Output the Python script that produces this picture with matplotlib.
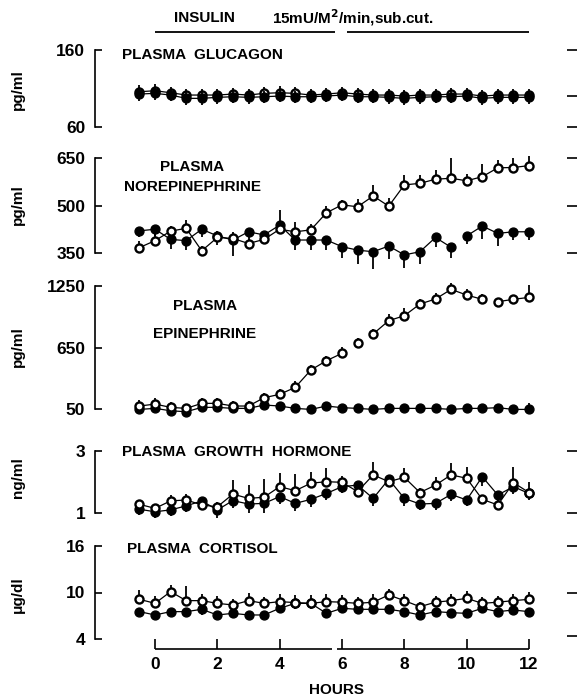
import matplotlib
matplotlib.use("Agg")
import matplotlib.pyplot as plt

plt.rcParams['font.family'] = ['Liberation Sans', 'DejaVu Sans']
plt.rcParams['font.weight'] = 'bold'

# ---------------- data ----------------
hours = [-0.5, 0, 0.5, 1, 1.5, 2, 2.5, 3, 3.5, 4, 4.5, 5, 5.5, 6,
         6.5, 7, 7.5, 8, 8.5, 9, 9.5, 10, 10.5, 11, 11.5, 12]

glu_open = [105.8, 107.1, 104.5, 101.5, 101.5, 101.5, 102.8, 101.5, 103.7, 104.5, 103.7, 101.5, 102.8,
            104.5, 102.8, 101.5, 101.5, 100.2, 101.5, 101.5, 102.8, 102.8, 100.2, 101.5, 101.5, 101.5]
glu_fill = [102.8, 103.7, 101.5, 97.2, 97.2, 98.5, 99.3, 98.5, 99.3, 100.2, 99.3, 99.3, 100.2,
            101.5, 99.3, 99.3, 98.5, 97.2, 98.5, 99.3, 99.3, 100.2, 97.2, 98.5, 98.5, 98.5]
glu_open_err = [9, 9, 8, 8, 8, 8, 8, 8, 8, 9, 8, 8, 8, 8, 8, 8, 8, 8, 8, 8, 8, 8, 8, 8, 8, 8]
glu_fill_err = [9, 8, 8, 9, 9, 8, 8, 8, 8, 8, 8, 8, 8, 8, 8, 8, 8, 9, 8, 8, 8, 8, 8, 8, 8, 8]

ne_open = [367, 389, 419, 428, 357, 399, 396, 380, 393, 425, 417, 423, 477,
           502, 496, 530, 498, 565, 570, 583, 586, 578, 591, 619, 620, 626]
ne_fill = [420, 425, 393, 389, 425, 404, 391, 417, 407, 438, 391, 391, 391,
           370, 359, 354, 372, 344, 354, 399, 368, 404, 435, 412, 417, 417]
ne_open_err = [20, 20, 15, 25, 15, 20, 20, 15, 15, 60, 30, 20, 20,
               15, 25, 35, 25, 30, 25, 30, 65, 20, 40, 25, 30, 30]
ne_fill_err = [20, 20, 30, 30, 25, 30, 50, 25, 25, 25, 30, 30, 30,
               35, 45, 55, 40, 40, 40, 30, 35, 25, 40, 40, 25, 25]

epi_open = [79, 98, 66, 56, 105, 105, 79, 79, 160, 193, 261, 430, 521,
            593, 697, 782, 912, 960, 1074, 1123, 1217, 1162, 1120, 1097, 1120, 1139]
epi_fill = [46, 56, 33, 23, 66, 66, 56, 56, 89, 79, 56, 46, 79,
            63, 56, 46, 56, 56, 56, 56, 46, 56, 56, 63, 46, 46]
epi_open_err = [60, 60, 50, 45, 55, 55, 45, 45, 50, 50, 60, 50, 50,
                60, 50, 50, 60, 75, 50, 60, 60, 60, 50, 35, 35, 120]
epi_fill_err = [40, 40, 40, 35, 45, 45, 40, 40, 50, 40, 30, 30, 35,
                30, 40, 30, 30, 40, 30, 35, 30, 40, 35, 40, 35, 60]

gh_open = [1.28, 1.15, 1.39, 1.42, 1.26, 1.20, 1.61, 1.47, 1.51, 1.85, 1.72, 1.96, 2.01,
           1.99, 1.69, 2.23, 2.01, 2.15, 1.66, 1.90, 2.23, 2.12, 1.44, 1.26, 1.98, 1.66]
gh_fill = [1.12, 1.04, 1.10, 1.23, 1.39, 1.10, 1.40, 1.29, 1.31, 1.53, 1.31, 1.44, 1.63,
           1.85, 1.90, 1.47, 2.09, 1.47, 1.29, 1.31, 1.60, 1.42, 2.17, 1.58, 1.85, 1.63]
gh_open_err = [0.15, 0.10, 0.20, 0.20, 0.20, 0.15, 0.45, 0.43, 0.60, 0.43, 0.53, 0.35, 0.43,
               0.20, 0.20, 0.43, 0.20, 0.30, 0.15, 0.27, 0.38, 0.38, 0.15, 0.15, 0.50, 0.35]
gh_fill_err = [0.20, 0.20, 0.20, 0.20, 0.20, 0.25, 0.25, 0.30, 0.30, 0.25, 0.25, 0.25, 0.20,
               0.20, 0.20, 0.25, 0.20, 0.25, 0.20, 0.20, 0.20, 0.20, 0.30, 0.25, 0.25, 0.20]

cort_open = [9.12, 8.60, 10.11, 8.95, 8.95, 8.60, 8.39, 8.95, 8.60, 8.82, 8.70, 8.60, 8.82,
             8.75, 8.60, 8.75, 9.68, 8.95, 8.17, 8.75, 8.95, 9.25, 8.60, 8.75, 8.95, 9.12]
cort_fill = [7.53, 7.10, 7.53, 7.53, 7.83, 7.10, 7.31, 7.10, 7.10, 7.96, 8.60, 8.60, 7.31,
             7.96, 7.83, 7.83, 7.83, 7.53, 7.10, 7.53, 7.40, 7.31, 7.96, 7.53, 7.74, 7.53]
cort_open_err = [1.2, 0.9, 0.9, 1.9, 0.9, 0.9, 0.8, 1.0, 0.8, 1.0, 1.0, 1.1, 1.0,
                 0.9, 0.8, 1.0, 0.8, 0.8, 0.6, 0.8, 0.9, 0.9, 0.8, 0.8, 0.8, 1.0]
cort_fill_err = [0.6, 0.5, 0.6, 0.6, 0.7, 0.5, 0.6, 0.5, 0.5, 0.6, 0.7, 0.7, 0.6,
                 0.6, 0.6, 0.6, 0.5, 0.5, 0.5, 0.5, 0.5, 0.5, 0.6, 0.5, 0.5, 0.5]

hour_ticks = [0, 2, 4, 6, 8, 10, 12]
insulin_segments = [(0, 5.77), (6.16, 12)]
axis_segments = [(0, 5.68), (5.84, 12)]

# ---------------- figure ----------------
W, H = 577, 700
fig = plt.figure(figsize=(W / 100, H / 100), dpi=100)
LEFT_PX, RIGHT_PX = 95, 577
XPX0, XPX12 = 155.0, 529.0
ppx = (XPX12 - XPX0) / 12.0
XMIN = (LEFT_PX - XPX0) / ppx
XMAX = 12 + (RIGHT_PX - XPX12) / ppx
TICKFS = 12.5


def add_panel(top_px, bot_px, ylo, yhi, lticks, rticks):
    ax = fig.add_axes([LEFT_PX / W, 1 - bot_px / H, (RIGHT_PX - LEFT_PX) / W, (bot_px - top_px) / H])
    ax.set_xlim(XMIN, XMAX)
    ax.set_ylim(ylo, yhi)
    for s in ['top', 'right', 'bottom']:
        ax.spines[s].set_visible(False)
    ax.spines['left'].set_linewidth(1.2)
    ax.set_xticks([])
    ax.set_yticks(lticks)
    ax.set_yticklabels([str(t) for t in lticks], fontsize=TICKFS, fontweight='bold')
    ax.tick_params(axis='y', direction='in', length=5, width=1.2, pad=7)
    ax.patch.set_alpha(0)
    if rticks:
        ax2 = ax.twinx()
        ax2.set_ylim(ylo, yhi)
        for s in ['top', 'left', 'bottom', 'right']:
            ax2.spines[s].set_visible(False)
        ax2.set_yticks(rticks)
        ax2.set_yticklabels([])
        ax2.tick_params(axis='y', direction='in', length=7, width=1.2)
    return ax


def series(ax, y, err, filled, direction, breaks=(), z=0):
    idx = list(range(len(hours)))
    segs, cur = [], []
    for i in idx:
        cur.append(i)
        if i in breaks:
            segs.append(cur)
            cur = []
    segs.append(cur)
    for seg in segs:
        ax.plot([hours[i] for i in seg], [y[i] for i in seg], color='black', lw=0.9,
                zorder=2, clip_on=False)
    for i in idx:
        lo = y[i] - err[i] if direction in ('down', 'both') else y[i]
        hi = y[i] + err[i] if direction in ('up', 'both') else y[i]
        ax.vlines(hours[i], lo, hi, color='black', lw=1.3, zorder=3 + z, clip_on=False)
    if filled:
        ax.plot(hours, y, ls='none', marker='o', ms=6.4, mfc='black', mec='black',
                zorder=4 + z, clip_on=False)
    else:
        ax.plot(hours, y, ls='none', marker='o', ms=5.8, mfc='white', mec='black', mew=1.7,
                zorder=5 + z, clip_on=False)


txt = dict(fontsize=11, fontweight='bold', color='black')

# Glucagon
ax1 = add_panel(50, 127, 60, 160, [60, 160], [60, 100, 160])
series(ax1, glu_open, glu_open_err, False, 'both')
series(ax1, glu_fill, glu_fill_err, True, 'both', z=3)
ax1.text(-1.05, 153, 'PLASMA  GLUCAGON', ha='left', va='center', **txt)

# Norepinephrine
ax2 = add_panel(158, 253, 350, 650, [350, 500, 650], [350, 500, 650])
series(ax2, ne_fill, ne_fill_err, True, 'down', breaks=(20,))
series(ax2, ne_open, ne_open_err, False, 'up')
ax2.text(1.2, 645, 'PLASMA\nNOREPINEPHRINE', ha='center', va='top', linespacing=1.6, **txt)

# Epinephrine
ax3 = add_panel(286, 409, 50, 1250, [50, 650, 1250], None)
series(ax3, epi_fill, epi_fill_err, True, 'up')
series(ax3, epi_open, epi_open_err, False, 'up', breaks=(13, 14, 22))
ax3.text(1.6, 1125, 'PLASMA\nEPINEPHRINE', ha='center', va='top', linespacing=2.25, **txt)

# Growth hormone
ax4 = add_panel(451, 513, 1, 3, [1, 3], [1.0, 3.2])
series(ax4, gh_fill, gh_fill_err, True, 'down')
series(ax4, gh_open, gh_open_err, False, 'up')
ax4.text(-1.05, 2.98, 'PLASMA  GROWTH  HORMONE', ha='left', va='center', **txt)

# Cortisol
ax5 = add_panel(546, 639, 4, 16, [4, 10, 16], [4.4, 10.2, 16.4])
series(ax5, cort_fill, cort_fill_err, True, 'down')
series(ax5, cort_open, cort_open_err, False, 'up')
ax5.text(-0.9, 15.6, 'PLASMA  CORTISOL', ha='left', va='center', **txt)

# x axis (broken line)
axx = fig.add_axes([LEFT_PX / W, 1 - 649 / H, (RIGHT_PX - LEFT_PX) / W, 8 / H])
axx.set_xlim(XMIN, XMAX)
axx.set_ylim(0, 1)
for s in axx.spines.values():
    s.set_visible(False)
axx.patch.set_alpha(0)
axx.set_yticks([])
axx.set_xticks(hour_ticks)
axx.set_xticklabels([str(h) for h in hour_ticks], fontsize=TICKFS, fontweight='bold')
axx.tick_params(axis='x', direction='in', length=7, width=1.2, pad=6)
for a, b in axis_segments:
    axx.plot([a, b], [0, 0], color='black', lw=1.2, clip_on=False, solid_capstyle='butt')
axx.set_xlabel('HOURS', fontsize=11, fontweight='bold', labelpad=8)

# insulin bar
axi = fig.add_axes([LEFT_PX / W, 1 - 40 / H, (RIGHT_PX - LEFT_PX) / W, 30 / H])
axi.set_xlim(XMIN, XMAX)
axi.set_ylim(0, 1)
axi.axis('off')
for a, b in insulin_segments:
    axi.plot([a, b], [0.27, 0.27], color='black', lw=1.3, solid_capstyle='butt')
axi.text(1.6, 0.75, 'INSULIN', ha='center', va='center', **txt)
axi.text(6.35, 0.75, r'15mU/M$^{\mathbf{2}}$/min,sub.cut.', ha='center', va='center', **txt)

# y labels
for ylab, yc in [('pg/ml', 90), ('pg/ml', 205), ('pg/ml', 347), ('ng/ml', 478), (u'\u03bcg/dl', 595)]:
    fig.text(18 / W, 1 - yc / H, ylab, rotation=90, ha='center', va='center', **txt)

fig.savefig('out.png', dpi=100)
